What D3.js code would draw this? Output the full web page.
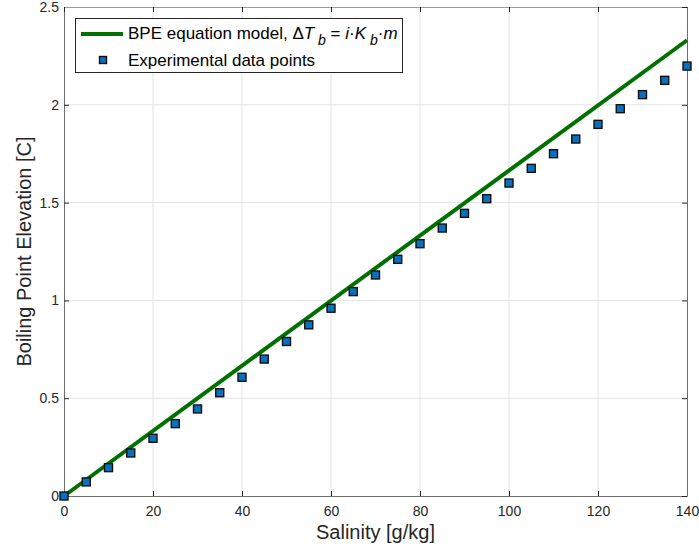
<!DOCTYPE html>
<html>
<head>
<meta charset="utf-8">
<script src="https://cdn.jsdelivr.net/npm/d3@7"></script>
<style>
  body { margin: 0; background: #fff; }
  svg { font-family: "Liberation Sans", Arial, Helvetica, sans-serif; }
  .tick text { font-size: 14px; fill: #262626; }
  .axis-title { font-size: 20px; fill: #262626; }
  .legend text { font-size: 17px; fill: #000; }
</style>
</head>
<body>
<svg id="chart"></svg>
<script>
// model line endpoints
const modelSalinity = [0, 140];
const modelBPE = [0, 2.33];

// experimental points
const expSalinity = [0, 5, 10, 15, 20, 25, 30, 35, 40, 45, 50, 55, 60, 65, 70,
  75, 80, 85, 90, 95, 100, 105, 110, 115, 120, 125, 130, 135, 140];
const expBPE = [0, 0.072, 0.145, 0.22, 0.295, 0.37, 0.445, 0.528, 0.607, 0.70,
  0.79, 0.875, 0.96, 1.045, 1.13, 1.21, 1.29, 1.37, 1.445, 1.52, 1.60, 1.675,
  1.75, 1.825, 1.90, 1.98, 2.052, 2.125, 2.198];

const xTicks = [0, 20, 40, 60, 80, 100, 120, 140];
const yTicks = [0, 0.5, 1, 1.5, 2, 2.5];

const width = 699, height = 550;
const margin = { top: 7, right: 12, bottom: 54, left: 64 };
const w = width - margin.left - margin.right;
const h = height - margin.top - margin.bottom;

const svg = d3.select("#chart").attr("width", width).attr("height", height);
const chart = svg.append("g")
  .attr("transform", `translate(${margin.left},${margin.top})`);

const xScale = d3.scaleLinear().domain([0, 140]).range([0, w]);
const yScale = d3.scaleLinear().domain([0, 2.5]).range([h, 0]);

// grid
chart.append("g").selectAll("line")
  .data(xTicks.slice(1, -1)).join("line")
  .attr("x1", d => xScale(d)).attr("x2", d => xScale(d))
  .attr("y1", 0).attr("y2", h)
  .attr("stroke", "#e3e3e3").attr("stroke-width", 1);
chart.append("g").selectAll("line")
  .data(yTicks.slice(1, -1)).join("line")
  .attr("x1", 0).attr("x2", w)
  .attr("y1", d => yScale(d)).attr("y2", d => yScale(d))
  .attr("stroke", "#e3e3e3").attr("stroke-width", 1);

// axes (ticks pointing inward, box on all sides)
const axisColor = "#262626";
const fmt = d => d3.format("~g")(d);
const xAxisG = chart.append("g").attr("transform", `translate(0,${h})`)
  .call(d3.axisBottom(xScale).tickValues(xTicks).tickFormat(fmt).tickSize(-5).tickPadding(10).tickSizeOuter(0));
const yAxisG = chart.append("g")
  .call(d3.axisLeft(yScale).tickValues(yTicks).tickFormat(fmt).tickSize(-5).tickPadding(5).tickSizeOuter(0));
const xTopG = chart.append("g")
  .call(d3.axisTop(xScale).tickValues(xTicks).tickFormat("").tickSize(-5).tickSizeOuter(0));
const yRightG = chart.append("g").attr("transform", `translate(${w},0)`)
  .call(d3.axisRight(yScale).tickValues(yTicks).tickFormat("").tickSize(-5).tickSizeOuter(0));
[xAxisG, yAxisG, xTopG, yRightG].forEach(g => {
  g.selectAll("path, line").attr("stroke", axisColor).attr("stroke-width", 1);
  g.selectAll("path.domain").attr("stroke", "#6e6e6e");
  g.selectAll("text").attr("fill", axisColor);
});
xTopG.selectAll("path.domain").attr("stroke", "#9a9a9a");

// model line
const modelData = modelSalinity.map((s, i) => ({ s, v: modelBPE[i] }));
chart.append("path")
  .datum(modelData)
  .attr("fill", "none")
  .attr("stroke", "#007100")
  .attr("stroke-width", 4)
  .attr("d", d3.line().x(d => xScale(d.s)).y(d => yScale(d.v)));

// experimental points
const expData = expSalinity.map((s, i) => ({ s, v: expBPE[i] }));
chart.selectAll("rect.pt")
  .data(expData).join("rect")
  .attr("class", "pt")
  .attr("x", d => xScale(d.s) - 4)
  .attr("y", d => yScale(d.v) - 4)
  .attr("width", 8).attr("height", 8)
  .attr("fill", "#0a6fbd")
  .attr("stroke", "#111").attr("stroke-width", 1.4);

// axis titles
svg.append("text")
  .attr("class", "axis-title")
  .attr("x", margin.left + w / 2)
  .attr("y", 539)
  .attr("text-anchor", "middle")
  .text("Salinity [g/kg]");
svg.append("text")
  .attr("class", "axis-title")
  .attr("transform", `translate(31,${margin.top + h / 2}) rotate(-90)`)
  .attr("text-anchor", "middle")
  .text("Boiling Point Elevation [C]");

// legend
const legend = svg.append("g").attr("class", "legend");
legend.append("rect")
  .attr("x", 75.5).attr("y", 18.5).attr("width", 327).attr("height", 54)
  .attr("fill", "#fff").attr("stroke", "#262626").attr("stroke-width", 1);
legend.append("line")
  .attr("x1", 81).attr("x2", 123).attr("y1", 34).attr("y2", 34)
  .attr("stroke", "#007100").attr("stroke-width", 4);
const t1 = legend.append("text").attr("x", 128).attr("y", 39);
t1.append("tspan").text("BPE equation model, Δ");
t1.append("tspan").attr("font-style", "italic").text("T");
t1.append("tspan").attr("font-size", "14px").attr("font-style", "italic").attr("dy", 6).text(" b");
t1.append("tspan").attr("dy", -6).text(" = ");
t1.append("tspan").attr("font-style", "italic").text("i");
t1.append("tspan").text("·");
t1.append("tspan").attr("font-style", "italic").text("K");
t1.append("tspan").attr("font-size", "14px").attr("font-style", "italic").attr("dy", 6).text(" b");
t1.append("tspan").attr("dy", -6).text("·");
t1.append("tspan").attr("font-style", "italic").text("m");

legend.append("rect")
  .attr("x", 99.5).attr("y", 56.5).attr("width", 7).attr("height", 7)
  .attr("fill", "#0a6fbd").attr("stroke", "#111").attr("stroke-width", 1.4);
legend.append("text").attr("x", 128).attr("y", 66).text("Experimental data points");
</script>
</body>
</html>
